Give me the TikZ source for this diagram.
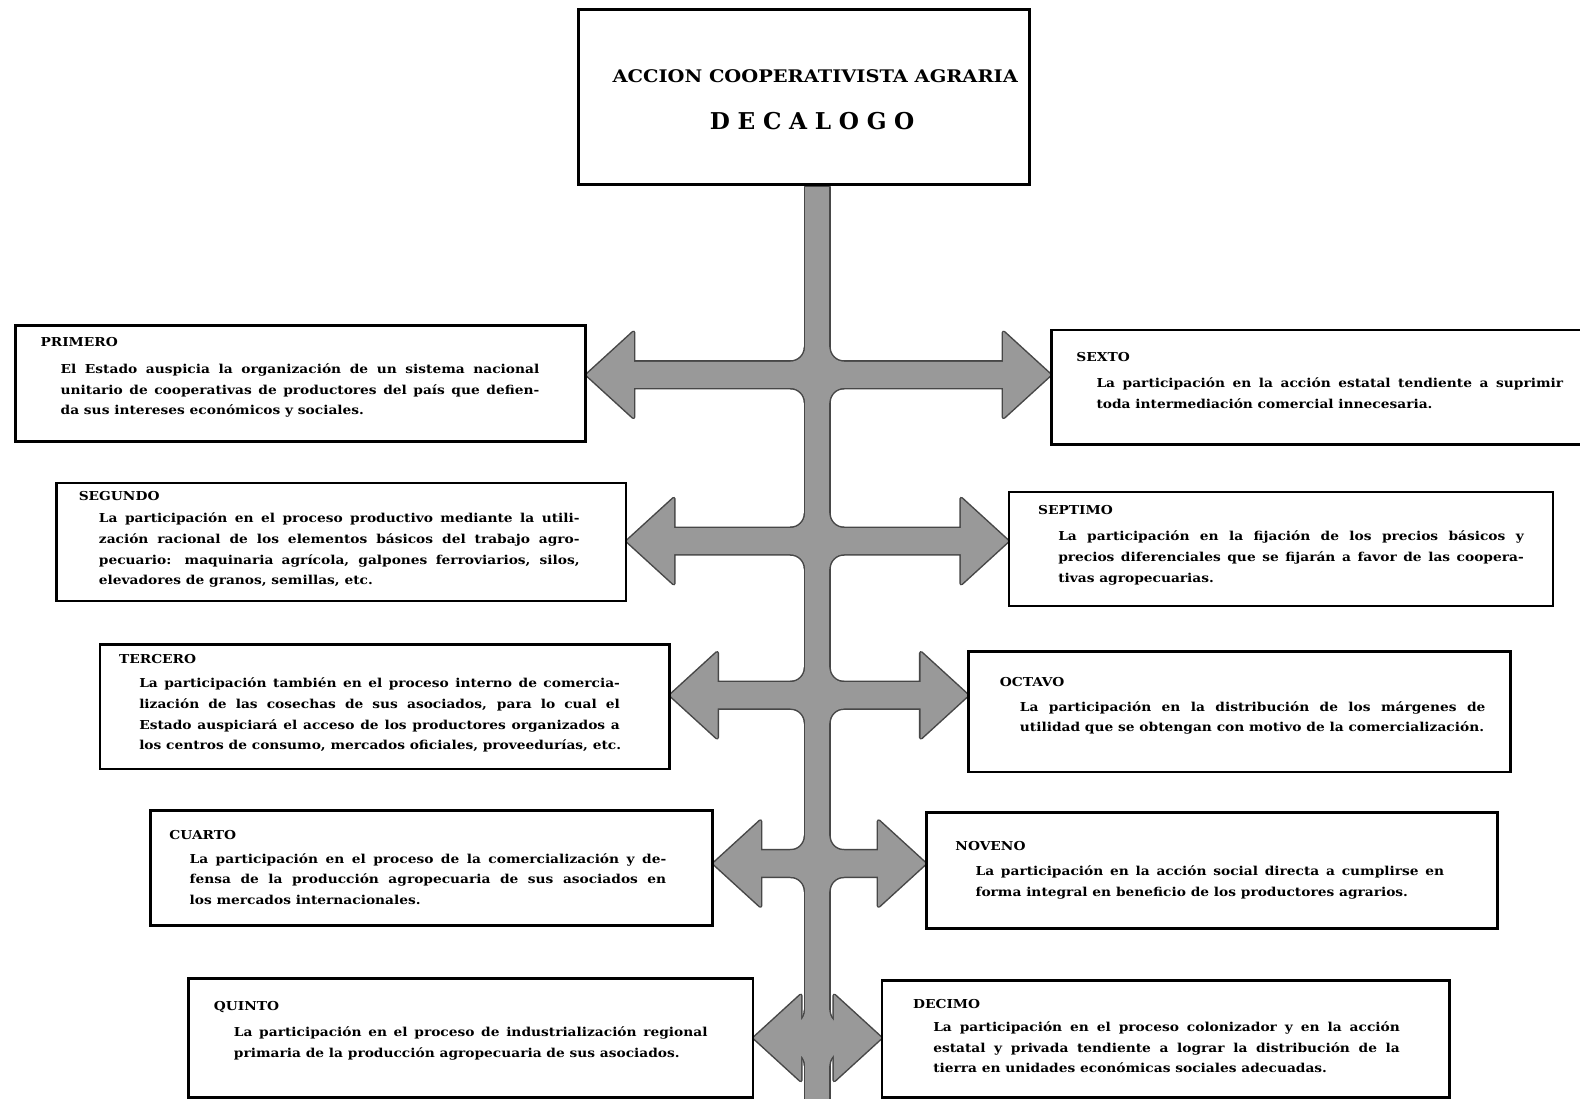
\documentclass[tikz,border=0pt]{standalone}
\usepackage{fontspec}
\setmainfont{DejaVu Serif}
\newfontfamily\bodyfont[FakeStretch=1.12]{DejaVu Serif}
\usetikzlibrary{calc,backgrounds}

\def\HL{46}\def\HW{42}\def\BH{12.5}\def\TW{11.5}\def\FR{15}

\tikzset{
  box/.style={draw=black, line width=2.6pt, inner sep=0pt, anchor=north west},
  txt/.style={inner sep=0pt, anchor=north west, align=left,
    font=\bodyfont\bfseries\fontsize{12.2}{20.5}\selectfont},
  titletxt/.style={inner sep=0pt, font=\bodyfont\bfseries\fontsize{17.2}{20}\selectfont},
  armout/.style={draw=black!72, line width=4pt, fill=black!72, line join=round},
  armin/.style={fill=black!40, draw=black!40, line width=1pt, line join=round},
}

\newcommand\bl[2]{\hspace*{20pt}\makebox[#1pt][s]{#2}}
\newcommand\lastl[1]{\hspace*{20pt}#1}

\newcommand\rowarrow[4]{% style, left node, right node, junction
  \path[#1] (#2.east|-#4) -- ++(\HL,-\HW) -- ++(0,\HW-\BH)
    -- ($(#3.west|-#4)+(-\HL,-\BH)$) -- ++(0,\BH-\HW) -- (#3.west|-#4)
    -- ++(-\HL,\HW) -- ++(0,\BH-\HW) -- ($(#2.east|-#4)+(\HL,\BH)$)
    -- ++(0,\HW-\BH) -- cycle;}

\newcommand\onefillet[4]{% style, junction, sx, sy
  \path[#1] ($(#2)+({(#3)*\TW},{(#4)*\BH})$)
    -- ($(#2)+({(#3)*(\TW+\FR)},{(#4)*\BH})$)
    .. controls ($(#2)+({(#3)*(\TW+0.448*\FR)},{(#4)*\BH})$)
    and ($(#2)+({(#3)*\TW},{(#4)*(\BH+0.448*\FR)})$)
    .. ($(#2)+({(#3)*\TW},{(#4)*(\BH+\FR)})$) -- cycle;}

\newcommand\treeparts[1]{%
  \path[#1] ($(ttop)+(-\TW,0)$) rectangle ($(tbot)+(\TW,0)$);
  \rowarrow{#1}{p1}{s6}{j1}
  \rowarrow{#1}{p2}{s7}{j2}
  \rowarrow{#1}{p3}{s8}{j3}
  \rowarrow{#1}{p4}{s9}{j4}
  \rowarrow{#1}{p5}{s10}{j5}
  \foreach \j in {j1,j2,j3,j4,j5}{%
    \onefillet{#1}{\j}{-1}{-1}\onefillet{#1}{\j}{1}{-1}%
    \onefillet{#1}{\j}{-1}{1}\onefillet{#1}{\j}{1}{1}}%
}

\begin{document}
\begin{tikzpicture}[x=1pt,y=-1pt]
\useasboundingbox (0,0) rectangle (1568,1090);

% title
\node[box, line width=3pt, minimum width=447pt, minimum height=174pt] (title) at (573,8) {};
\node[titletxt] (t1) at (809,76) {ACCION COOPERATIVISTA AGRARIA};
\node[titletxt, font=\bfseries\fontsize{23}{26}\selectfont] (t2) at (806,120) {\makebox[203pt][s]{D E C A L O G O}};

% trunk and junctions
\coordinate (ttop) at (811,186);
\coordinate (tbot) at (811,1094);
\coordinate (j1) at (811,372);
\coordinate (j2) at (811,537);
\coordinate (j3) at (811,690);
\coordinate (j4) at (811,857);
\coordinate (j5) at (811,1030);

% left boxes
\node[box, minimum width=566pt, minimum height=115pt] (p1) at (14,322) {};
\node[box, minimum width=565pt, minimum height=117pt] (p2) at (55,478) {};
\node[box, minimum width=565pt, minimum height=124pt] (p3) at (98,638) {};
\node[box, minimum width=558pt, minimum height=114pt] (p4) at (148,803) {};
\node[box, minimum width=560pt, minimum height=118pt] (p5) at (186,970) {};
% right boxes
\node[box, minimum width=540pt, minimum height=114pt] (s6) at (1042,326) {};
\node[box, minimum width=540pt, minimum height=113pt] (s7) at (1000,487) {};
\node[box, minimum width=538pt, minimum height=120pt] (s8) at (960,645) {};
\node[box, minimum width=567pt, minimum height=115pt] (s9) at (918,805) {};
\node[box, minimum width=563pt, minimum height=116pt] (s10) at (874,972) {};

% texts
\node[txt] (p1t) at (40,335) {PRIMERO\\[6pt]
\bl{475}{El Estado auspicia la organización de un sistema nacional}\\
\bl{475}{unitario de cooperativas de productores del país que defien-}\\
\lastl{da sus intereses económicos y sociales.}};

\node[txt] (s6t) at (1068,349) {SEXTO\\[6pt]
\bl{463}{La participación en la acción estatal tendiente a suprimir}\\
\lastl{toda intermediación comercial innecesaria.}};

\node[txt] (p2t) at (78,487) {SEGUNDO\\[2pt]
\bl{477}{La participación en el proceso productivo mediante la utili-}\\
\bl{477}{zación racional de los elementos básicos del trabajo agro-}\\
\bl{477}{pecuario: maquinaria agrícola, galpones ferroviarios, silos,}\\
\lastl{elevadores de granos, semillas, etc.}};

\node[txt] (s7t) at (1030,501) {SEPTIMO\\[6pt]
\bl{462}{La participación en la fijación de los precios básicos y}\\
\bl{462}{precios diferenciales que se fijarán a favor de las coopera-}\\
\lastl{tivas agropecuarias.}};

\node[txt] (p3t) at (118,649) {TERCERO\\[4pt]
\bl{477}{La participación también en el proceso interno de comercia-}\\
\bl{477}{lización de las cosechas de sus asociados, para lo cual el}\\
\bl{477}{Estado auspiciará el acceso de los productores organizados a}\\
\lastl{los centros de consumo, mercados oficiales, proveedurías, etc.}};

\node[txt] (s8t) at (992,672) {OCTAVO\\[4pt]
\bl{462}{La participación en la distribución de los márgenes de}\\
\lastl{utilidad que se obtengan con motivo de la comercialización.}};

\node[txt] (p4t) at (168,824) {CUARTO\\[3pt]
\bl{473}{La participación en el proceso de la comercialización y de-}\\
\bl{473}{fensa de la producción agropecuaria de sus asociados en}\\
\lastl{los mercados internacionales.}};

\node[txt] (s9t) at (948,835) {NOVENO\\[4pt]
\bl{465}{La participación en la acción social directa a cumplirse en}\\
\lastl{forma integral en beneficio de los productores agrarios.}};

\node[txt] (p5t) at (212,994) {QUINTO\\[5pt]
\bl{470}{La participación en el proceso de industrialización regional}\\
\lastl{primaria de la producción agropecuaria de sus asociados.}};

\node[txt] (s10t) at (906,992) {DECIMO\\[2pt]
\bl{463}{La participación en el proceso colonizador y en la acción}\\
\bl{463}{estatal y privada tendiente a lograr la distribución de la}\\
\lastl{tierra en unidades económicas sociales adecuadas.}};

\begin{scope}[on background layer]
  \fill[white] (0,0) rectangle (1568,1090);
  \treeparts{armout}
  \treeparts{armin}
\end{scope}
\end{tikzpicture}
\end{document}
